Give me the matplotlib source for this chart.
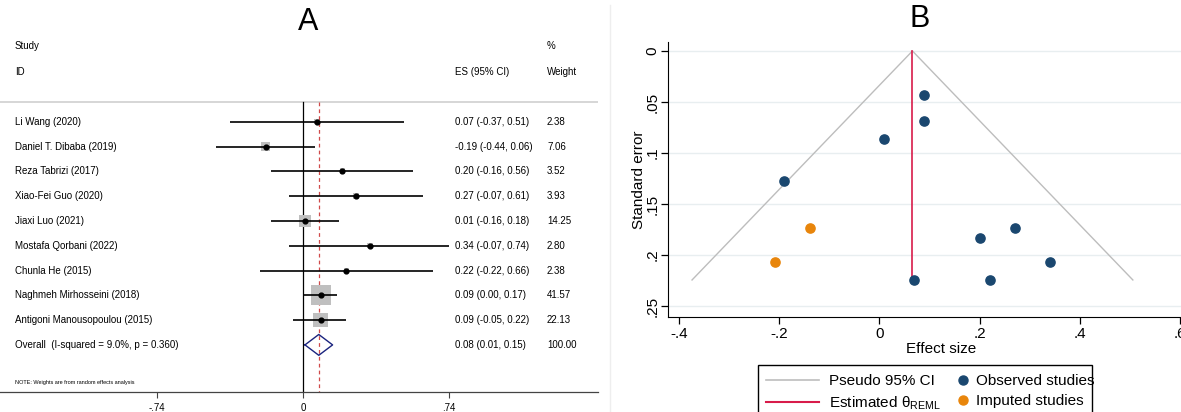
import matplotlib
matplotlib.use('Agg')
import matplotlib.pyplot as plt
from matplotlib.lines import Line2D
from matplotlib.patches import Rectangle
import numpy as np

plt.rcParams['font.family'] = ['Liberation Sans', 'DejaVu Sans']
plt.rcParams['mathtext.fontset'] = 'custom'
plt.rcParams['mathtext.rm'] = 'Liberation Sans'

# Datos del forest plot
estudios = ['Li Wang (2020)', 'Daniel T. Dibaba (2019)', 'Reza Tabrizi (2017)',
            'Xiao-Fei Guo (2020)', 'Jiaxi Luo (2021)', 'Mostafa Qorbani (2022)',
            'Chunla He (2015)', 'Naghmeh Mirhosseini (2018)',
            'Antigoni Manousopoulou (2015)']
es = [0.07, -0.19, 0.20, 0.27, 0.01, 0.34, 0.22, 0.09, 0.09]
ci_low = [-0.37, -0.44, -0.16, -0.07, -0.16, -0.07, -0.22, 0.00, -0.05]
ci_high = [0.51, 0.06, 0.56, 0.61, 0.18, 0.74, 0.66, 0.17, 0.22]
pesos = [2.38, 7.06, 3.52, 3.93, 14.25, 2.80, 2.38, 41.57, 22.13]
overall = (0.08, 0.01, 0.15)
overall_label = 'Overall  (I-squared = 9.0%, p = 0.360)'
forest_ticks = [-0.74, 0, 0.74]
forest_ticklabels = ['-.74', '0', '.74']

# Datos del funnel plot
obs_es = [0.07, -0.19, 0.20, 0.27, 0.01, 0.34, 0.22, 0.09, 0.09]
obs_se = [0.2245, 0.1276, 0.1837, 0.1735, 0.0867, 0.2066, 0.2245, 0.0434, 0.0689]
imp_es = [-0.138, -0.208]
imp_se = [0.1735, 0.2066]
theta = 0.066
funnel_xticks = [-0.4, -0.2, 0, 0.2, 0.4, 0.6]
funnel_xticklabels = ['-.4', '-.2', '0', '.2', '.4', '.6']
funnel_yticks = [0, 0.05, 0.1, 0.15, 0.2, 0.25]
funnel_yticklabels = ['0', '.05', '.1', '.15', '.2', '.25']

W, H = 1181, 412
fig = plt.figure(figsize=(W / 100, H / 100), dpi=100)


def px_ax(x0, y0, x1, y1):
    return fig.add_axes([x0 / W, 1 - y1 / H, (x1 - x0) / W, (y1 - y0) / H])


# ---------------- Panel A ----------------
axA = px_ax(0, 30, 598, 392)
axA.set_xlim(-303 / 197.3, 295 / 197.3)
axA.set_ylim(10.9, -3.7)
for s in ['top', 'right', 'left']:
    axA.spines[s].set_visible(False)
axA.spines['bottom'].set_color('#444444')
axA.spines['bottom'].set_linewidth(0.9)
axA.set_yticks([])
axA.set_xticks(forest_ticks)
axA.set_xticklabels(forest_ticklabels, fontsize=7)
axA.tick_params(axis='x', length=4, color='#444444', pad=4)

filas = np.arange(len(estudios))
axA.axhline(-0.78, color='#d0d0d0', lw=1.2)
axA.plot([0, 0], [-0.78, 10.9], color='black', lw=0.9)
axA.plot([overall[0]] * 2, [-0.78, 10.9], color='#d04a4a', lw=0.9, ls=(0, (3, 2.5)))

axA.hlines(filas, ci_low, ci_high, color='black', lw=1.2, zorder=3)
axA.scatter(es, filas, marker='s', s=[5.0 * p for p in pesos], color='#bfbfbf',
            edgecolor='none', zorder=2)
axA.scatter(es, filas, marker='o', s=12, color='black', zorder=4)

fila_ov = len(estudios)
dx = [overall[1], overall[0], overall[2], overall[0], overall[1]]
dy = [fila_ov, fila_ov - 0.42, fila_ov, fila_ov + 0.42, fila_ov]
axA.plot(dx, dy, color='#1a237e', lw=1.0, zorder=4)

tx = axA.get_yaxis_transform()
fs = 7
axA.text(15 / 598, -3.05, 'Study', transform=tx, fontsize=fs, va='center')
axA.text(15 / 598, -2.0, 'ID', transform=tx, fontsize=fs, va='center')
axA.text(455 / 598, -2.0, 'ES (95% CI)', transform=tx, fontsize=fs, va='center')
axA.text(547 / 598, -3.05, '%', transform=tx, fontsize=fs, va='center')
axA.text(547 / 598, -2.0, 'Weight', transform=tx, fontsize=fs, va='center')
for i, nombre in enumerate(estudios):
    axA.text(15 / 598, i, nombre, transform=tx, fontsize=fs, va='center')
    axA.text(455 / 598, i, f'{es[i]:.2f} ({ci_low[i]:.2f}, {ci_high[i]:.2f})',
             transform=tx, fontsize=fs, va='center')
    axA.text(547 / 598, i, f'{pesos[i]:.2f}', transform=tx, fontsize=fs, va='center')
axA.text(15 / 598, fila_ov, overall_label, transform=tx, fontsize=fs, va='center')
axA.text(455 / 598, fila_ov, f'{overall[0]:.2f} ({overall[1]:.2f}, {overall[2]:.2f})',
         transform=tx, fontsize=fs, va='center')
axA.text(547 / 598, fila_ov, '100.00', transform=tx, fontsize=fs, va='center')
axA.text(15 / 598, 10.5, 'NOTE: Weights are from random effects analysis',
         transform=tx, fontsize=4, va='center')

fig.text(308 / W, 1 - 22 / H, 'A', fontsize=22, ha='center', va='center')

# separador
fig.add_artist(Line2D([610 / W, 610 / W], [0, 1 - 5 / H], color='#eeeeee', lw=1))

# ---------------- Panel B ----------------
x_left = -0.4 - 11 / 500
x_right = 0.6 + (1215 - 1180) / 500
axB = px_ax(668, 42, 1215, 317)
axB.set_xlim(x_left, x_right)
axB.set_ylim(0.2608, -0.0088)
for s in ['top', 'right']:
    axB.spines[s].set_visible(False)
axB.set_xticks(funnel_xticks)
axB.set_xticklabels(funnel_xticklabels, fontsize=11)
axB.set_yticks(funnel_yticks)
axB.set_yticklabels(funnel_yticklabels, fontsize=11, rotation=90, va='center')
axB.tick_params(length=5, width=0.9)
axB.tick_params(axis='y', pad=1)
axB.tick_params(axis='x', pad=2)
for y in funnel_yticks:
    axB.axhline(y, color='#e8eef0', lw=1.0, zorder=0)
axB.set_xlabel('Effect size', fontsize=11, labelpad=1)
axB.set_ylabel('Standard error', fontsize=11, labelpad=0)

se_max = max(obs_se)
axB.plot([theta - 1.96 * se_max, theta, theta + 1.96 * se_max], [se_max, 0, se_max],
         color='#bdbdbd', lw=1.0)
axB.plot([theta, theta], [0, se_max], color='#d81b4a', lw=1.2)
axB.scatter(obs_es, obs_se, s=44, color='#1a476f', zorder=3)
axB.scatter(imp_es, imp_se, s=44, color='#e8850b', zorder=3)

fig.text(920 / W, 1 - 19 / H, 'B', fontsize=22, ha='center', va='center')

# Leyenda: dos columnas con marco común
ley_kw = dict(fontsize=11, frameon=False, labelspacing=0.42, borderpad=0,
              borderaxespad=0, handletextpad=0.6)
h1 = [Line2D([], [], color='#bdbdbd', lw=1.2),
      Line2D([], [], color='#d81b4a', lw=1.5)]
l1 = ['Pseudo 95% CI', 'Estimated θ$_{\\mathrm{REML}}$']
h2 = [Line2D([], [], ls='none', marker='o', ms=6.5, color='#1a476f'),
      Line2D([], [], ls='none', marker='o', ms=6.5, color='#e8850b')]
l2 = ['Observed studies', 'Imputed studies']
leg1 = fig.legend(h1, l1, loc='upper left', bbox_to_anchor=(766 / W, 1 - 374 / H),
                  handlelength=3.5, **ley_kw)
leg2 = fig.legend(h2, l2, loc='upper left', bbox_to_anchor=(955 / W, 1 - 374 / H),
                  handlelength=1.0, handletextpad=0.4,
                  **{k: v for k, v in ley_kw.items() if k != 'handletextpad'})
fig.add_artist(Rectangle((758 / W, -0.05), (1092 - 758) / W, 0.05 + (412 - 365) / H,
                         transform=fig.transFigure, fill=False, edgecolor='black',
                         lw=1.0))

plt.savefig('out.png', dpi=100)
